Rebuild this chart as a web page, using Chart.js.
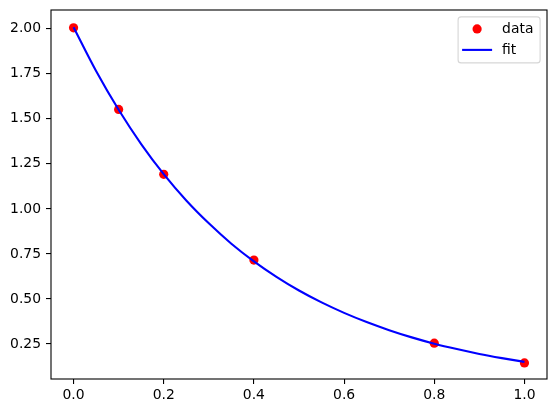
<!DOCTYPE html>
<html>
<head>
<meta charset="utf-8">
<script src="https://cdn.jsdelivr.net/npm/chart.js@4/dist/chart.umd.min.js"></script>
<style>
  html, body { margin: 0; padding: 0; background: #fff; }
  #wrap { width: 556px; height: 413px; position: relative; }
</style>
</head>
<body>
<div id="wrap"><canvas id="c" width="556" height="413"></canvas></div>
<script>
// Measured data points
const dataX = [0.0, 0.1, 0.2, 0.4, 0.8, 1.0];
const dataY = [2.005, 1.552, 1.192, 0.716, 0.255, 0.145];

// Fitted curve
const fitX = [0.0, 0.05, 0.1, 0.15, 0.2, 0.25, 0.3, 0.35, 0.4, 0.45, 0.5, 0.55, 0.6, 0.65, 0.7, 0.75, 0.8, 0.85, 0.9, 0.95, 1.0];
const fitY = [2.008, 1.765, 1.550, 1.360, 1.193, 1.047, 0.920, 0.807, 0.709, 0.623, 0.547, 0.481, 0.423, 0.372, 0.327, 0.287, 0.252, 0.222, 0.195, 0.172, 0.151];

// Tick labels
const xTicks = [0.0, 0.2, 0.4, 0.6, 0.8, 1.0];
const yTicks = [0.25, 0.50, 0.75, 1.00, 1.25, 1.50, 1.75, 2.00];

const labels = ['data', 'fit'];

const FONT = 'DejaVu Sans';
const FS = 13.9;

const frame = {
  id: 'frame',
  afterDatasetsDraw(chart) {
    const {ctx, chartArea: a} = chart;
    ctx.save();
    ctx.strokeStyle = '#000';
    ctx.lineWidth = 1.1;
    ctx.strokeRect(a.left, a.top, a.right - a.left, a.bottom - a.top);
    ctx.restore();
  },
  afterDraw(chart) {
    // legend in upper right, matplotlib style
    const {ctx, chartArea: a} = chart;
    const ds = chart.data.datasets;
    const dataDs = ds.find(d => d.label === 'data');
    const fitDs = ds.find(d => d.label === 'fit');
    const w = 82, h = 46;
    const x = a.right - 6.9 - w, y = a.top + 6.9;
    ctx.save();
    ctx.fillStyle = 'rgba(255,255,255,0.8)';
    ctx.strokeStyle = 'rgba(204,204,204,0.8)';
    ctx.lineWidth = 1.1;
    const r = 3;
    ctx.beginPath();
    ctx.moveTo(x + r, y);
    ctx.lineTo(x + w - r, y);
    ctx.quadraticCurveTo(x + w, y, x + w, y + r);
    ctx.lineTo(x + w, y + h - r);
    ctx.quadraticCurveTo(x + w, y + h, x + w - r, y + h);
    ctx.lineTo(x + r, y + h);
    ctx.quadraticCurveTo(x, y + h, x, y + h - r);
    ctx.lineTo(x, y + r);
    ctx.quadraticCurveTo(x, y, x + r, y);
    ctx.closePath();
    ctx.fill();
    ctx.stroke();
    // data marker
    const row1 = y + 12, row2 = y + 33;
    ctx.fillStyle = dataDs.backgroundColor;
    ctx.beginPath();
    ctx.arc(x + 19, row1, 4.6, 0, Math.PI * 2);
    ctx.fill();
    // fit line
    ctx.strokeStyle = fitDs.borderColor;
    ctx.lineWidth = 2.1;
    ctx.beginPath();
    ctx.moveTo(x + 4, row2);
    ctx.lineTo(x + 34, row2);
    ctx.stroke();
    // text
    ctx.fillStyle = '#000';
    ctx.font = FS + 'px "' + FONT + '"';
    ctx.textBaseline = 'middle';
    ctx.textAlign = 'left';
    ctx.fillText(dataDs.label, x + 44, row1);
    ctx.fillText(fitDs.label, x + 44, row2);
    ctx.restore();
  }
};

new Chart(document.getElementById('c'), {
  type: 'scatter',
  data: {
    datasets: [
      {
        label: labels[1],
        type: 'line',
        data: fitX.map((v, i) => ({x: v, y: fitY[i]})),
        borderColor: '#0000ff',
        backgroundColor: '#0000ff',
        borderWidth: 2.1,
        pointRadius: 0,
        cubicInterpolationMode: 'monotone',
        fill: false,
        order: 0
      },
      {
        label: labels[0],
        data: dataX.map((v, i) => ({x: v, y: dataY[i]})),
        backgroundColor: '#ff0000',
        borderColor: '#ff0000',
        pointRadius: 4.6,
        pointBorderWidth: 0,
        showLine: false,
        order: 1
      }
    ]
  },
  options: {
    responsive: false,
    animation: false,
    devicePixelRatio: 1,
    layout: { padding: { top: 10, right: 9, left: 0, bottom: 0 } },
    plugins: { legend: { display: false }, tooltip: { enabled: false } },
    scales: {
      x: {
        type: 'linear',
        min: -0.05,
        max: 1.05,
        afterBuildTicks: (s) => { s.ticks = xTicks.map(v => ({value: v})); },
        afterFit: (s) => { s.height = 34; s.paddingLeft = 0; s.paddingRight = 0; },
        grid: { display: true, drawOnChartArea: false, drawTicks: true, tickLength: 5, color: '#000', tickWidth: 1.1, lineWidth: 1.1 },
        border: { display: false },
        ticks: {
          color: '#000',
          padding: 3,
          maxRotation: 0,
          font: { family: FONT, size: FS },
          callback: (v) => Number(v).toFixed(1)
        }
      },
      y: {
        type: 'linear',
        min: 0.056,
        max: 2.104,
        afterBuildTicks: (s) => { s.ticks = yTicks.map(v => ({value: v})); },
        afterFit: (s) => { s.width = 51; s.paddingTop = 0; s.paddingBottom = 0; },
        grid: { display: true, drawOnChartArea: false, drawTicks: true, tickLength: 5, color: '#000', tickWidth: 1.1, lineWidth: 1.1 },
        border: { display: false },
        ticks: {
          color: '#000',
          padding: 5,
          font: { family: FONT, size: FS },
          callback: (v) => Number(v).toFixed(2)
        }
      }
    }
  },
  plugins: [frame]
});
</script>
</body>
</html>
